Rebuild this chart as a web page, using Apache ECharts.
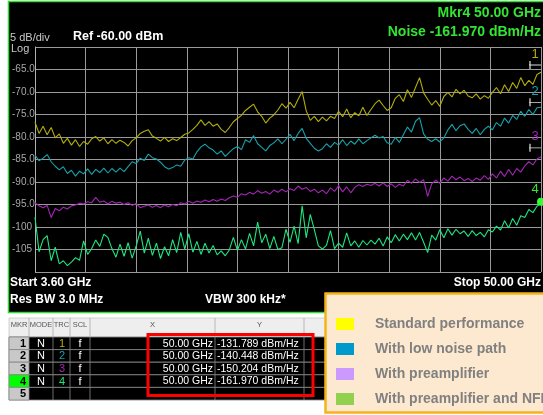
<!DOCTYPE html>
<html>
<head>
<meta charset="utf-8">
<script src="https://cdn.jsdelivr.net/npm/echarts@6/dist/echarts.min.js"></script>
<style>
html, body { margin: 0; padding: 0; background: #fff; }
#chart { width: 543px; height: 415px; }
</style>
</head>
<body>
<div id="chart"></div>
<script>
// sweep points 0..500 (3.60 GHz .. 50.00 GHz), one value every 4 points, dBm
const trace1 = [-76.7, -79.2, -77.6, -79.5, -77.9, -80.2, -79.3, -81.4, -80.3, -81.8, -80.6, -82.1, -81, -81.6, -80.4, -79.9, -80.9, -80.2, -81.5, -80.6, -81.4, -80.7, -81.2, -82, -80.8, -80.2, -79.2, -78.7, -78.4, -79.8, -80.3, -80.9, -80.1, -81, -80.4, -80.8, -80.1, -79.4, -79.1, -78.3, -77.4, -76.2, -77.4, -76.6, -77.6, -77.1, -78.3, -79, -77.9, -76.6, -75.9, -75.2, -74.1, -73.4, -72.7, -74.4, -75.4, -76.9, -75.8, -75.1, -74, -72.6, -73.6, -72.3, -73.5, -71.6, -69.9, -74.2, -76.3, -75.4, -76.6, -75.6, -76.4, -75.4, -75.9, -74.3, -75.5, -73.8, -75.7, -74.6, -75.3, -73.4, -75.2, -73.9, -72.6, -71.8, -73, -74.1, -73.5, -71.4, -70.6, -72.1, -69.5, -71.2, -69, -66.8, -70.2, -71.6, -72.9, -71.9, -73.2, -71, -70.1, -71.1, -69.4, -70.4, -69.6, -70.9, -71.3, -70.4, -71.6, -70.8, -71.4, -70.1, -69, -70.4, -68.4, -69.9, -67.9, -69.2, -66.8, -68.6, -67.4, -68.3, -66.1, -65.6]
const trace2 = [-84, -85.3, -84.7, -83.9, -85.5, -86.5, -87.3, -86.6, -88.1, -87.4, -88.7, -87.6, -88.2, -87.1, -88.3, -87.2, -87.9, -86.9, -88, -87, -87.8, -86.9, -87.7, -86.6, -85.5, -85.9, -84.7, -85.2, -83.8, -84.6, -84.9, -85.6, -86.6, -87.1, -86.8, -86.2, -86.5, -85.1, -84.6, -84.9, -83.3, -82.2, -81.6, -82.4, -82.9, -83.8, -83.1, -84.3, -83.4, -82.6, -82.1, -82.8, -80.6, -81.2, -79.7, -81.5, -82.3, -83.1, -81.9, -81.3, -80.4, -81.5, -80.5, -79.4, -80.8, -79.2, -78.1, -80.3, -81.4, -82.5, -83.1, -82.6, -81.5, -82.3, -81.2, -81.8, -80.6, -81.9, -80.9, -81.6, -80.4, -81.5, -80.8, -80.2, -79.6, -80.2, -79.9, -81.3, -81.6, -80.1, -81.2, -79.5, -77.8, -78.9, -76.5, -75.7, -79.3, -80.5, -81, -80.4, -81.1, -80.2, -78.4, -77.2, -78.6, -77.5, -77.1, -78.3, -79.2, -78.1, -79.5, -78.3, -77.6, -78.4, -76.8, -77.6, -75.8, -76.9, -75.2, -76.1, -74.3, -75.4, -73.9, -75, -73.5, -73.4]
const trace3 = [-94.6, -95.3, -95.7, -95.2, -97.9, -95.9, -96.4, -95.6, -96, -95.3, -95.1, -94.7, -94.9, -94.4, -94.6, -93.4, -94.5, -94.2, -94.9, -94.3, -94.7, -94.5, -95, -94.6, -95.2, -94.8, -95.7, -95.4, -95.1, -95.6, -95.2, -95.7, -95.1, -95.5, -95, -95.3, -94.6, -94.9, -94.3, -94.7, -94.2, -94.5, -94, -94.4, -93.9, -94.3, -93.8, -94.1, -93.5, -93.1, -93.4, -92.6, -92.9, -92.3, -92.7, -91.9, -92.5, -92.1, -92.7, -91.8, -92.3, -91.6, -92.2, -91.5, -91.9, -90.9, -91.6, -91.2, -92.1, -91.6, -92.4, -91.8, -92.6, -91.3, -92.1, -90.8, -92.2, -91.1, -92.4, -91.2, -90.6, -91, -90.5, -90.8, -90.3, -90.9, -90.2, -91, -90.4, -91.2, -90.5, -90.9, -89.6, -90.3, -89.3, -90.1, -89.5, -93.2, -90.4, -89.6, -90.3, -89.1, -89.8, -88.7, -89.5, -88.9, -89.7, -89.2, -89.9, -89.1, -89.6, -88.6, -89.4, -88.2, -89.1, -87.6, -88.8, -87.2, -88.5, -87, -87.8, -86.4, -85.5, -86.2, -84.9, -84.4]
const trace4 = [-97.8, -105.5, -102.8, -101.9, -107.5, -104.5, -108.2, -107.5, -108.6, -107.8, -106.8, -107.4, -103.1, -106.1, -104.8, -102.9, -104.3, -101.6, -102.3, -104.8, -106.7, -103.8, -106.5, -103.5, -106.9, -104.2, -100.9, -105.8, -102.5, -106.3, -103.6, -107, -104.4, -106.4, -102.8, -105.7, -101.2, -104.9, -101.5, -105.6, -103.2, -106.1, -103.6, -105.8, -104.1, -106.2, -105.3, -106.4, -105.1, -102.3, -105.2, -102.8, -104.9, -101.4, -104.2, -98.9, -103.5, -101.6, -104.8, -102.1, -105, -104.6, -100.5, -103.4, -99.8, -103.7, -95.3, -102.4, -97.2, -100.6, -104.2, -104.9, -104.1, -100.8, -104.8, -103.6, -104.5, -101.3, -104.2, -103.1, -104.5, -103, -104, -102.9, -103.8, -102.5, -104.2, -102.2, -103.5, -101.7, -103.1, -101.6, -102.8, -101.3, -102.9, -101.2, -103.4, -105.7, -101.8, -102.9, -100.6, -102.4, -100.4, -101.8, -100.5, -101.5, -100.9, -102.1, -100.8, -101.9, -101.2, -102.2, -100.6, -101.1, -99.8, -100.7, -98.6, -100.2, -98.1, -99.6, -97.5, -97.9, -96.1, -96.8, -95.4, -94.8]

const traceNames = ['Standard performance', 'With low noise path', 'With preamplifier', 'With preamplifier and NFE']
const traceColors = ['#b3ad0c', '#17a2ad', '#a326b5', '#1ee67e']
const legendColors = ['#ffff00', '#0099cc', '#cc99ff', '#92d050']
const markerLevels = [-64, -72.3, -82.4, -94.4]

// marker table
const mkrCol = ['1', '2', '3', '4', '5']
const modeCol = ['N', 'N', 'N', 'N', '']
const trcCol = ['1', '2', '3', '4', '']
const sclCol = ['f', 'f', 'f', 'f', '']
const xCol = ['50.00 GHz', '50.00 GHz', '50.00 GHz', '50.00 GHz', '']
const yCol = ['-131.789 dBm/Hz', '-140.448 dBm/Hz', '-150.204 dBm/Hz', '-161.970 dBm/Hz', '']

const FONT = 'Arial, "Liberation Sans", sans-serif'

function buildGraphic() {
  const g = []
  // analyzer screen
  g.push({ type: 'rect', z: -10, shape: { x: 8.5, y: 1.5, width: 540, height: 311 },
    style: { fill: '#000', stroke: '#2fe02f', lineWidth: 1.5 } })
  const txt = (text, x, y, o) => Object.assign({
    type: 'text', z: 50, x, y,
    style: Object.assign({ text, fill: '#fff', font: '13px ' + FONT, textVerticalAlign: 'middle' }, o || {})
  })
  g.push(txt('5 dB/div', 10, 38, { fill: '#c8c8c8', font: '11px ' + FONT }))
  g.push(txt('Log', 11, 49, { fill: '#c8c8c8', font: '11px ' + FONT }))
  g.push(txt('Ref -60.00 dBm', 73, 37, { font: 'bold 12.5px ' + FONT }))
  g.push(txt('Mkr4 50.00 GHz', 541, 13, { fill: '#33e533', font: 'bold 14px ' + FONT, textAlign: 'right' }))
  g.push(txt('Noise -161.970 dBm/Hz', 541, 32, { fill: '#33e533', font: 'bold 14px ' + FONT, textAlign: 'right' }))
  g.push(txt('Start 3.60 GHz', 10, 283, { font: 'bold 12px ' + FONT }))
  g.push(txt('Res BW 3.0 MHz', 10, 300, { font: 'bold 12px ' + FONT }))
  g.push(txt('VBW 300 kHz*', 205, 300, { font: 'bold 12px ' + FONT }))
  g.push(txt('Stop 50.00 GHz', 541, 283, { font: 'bold 12px ' + FONT, textAlign: 'right' }))

  // marker table
  const cols = [9, 29, 53, 70, 90, 215, 304, 543]
  const headTop = 318, rowTop = 337, rowH = 12.6
  g.push({ type: 'rect', z: 20, shape: { x: 9, y: headTop, width: 534, height: rowTop - headTop },
    style: { fill: '#eeeeee', stroke: '#aaa', lineWidth: 0.5 } })
  const heads = ['MKR', 'MODE', 'TRC', 'SCL', 'X', 'Y', 'F']
  heads.forEach((h, c) => {
    if (c > 0) g.push({ type: 'line', z: 21, shape: { x1: cols[c], y1: headTop, x2: cols[c], y2: rowTop },
      style: { stroke: '#aaa', lineWidth: 0.8 } })
    g.push(txt(h, (cols[c] + cols[c + 1]) / 2, headTop + 7, { fill: '#555', font: '7.5px ' + FONT, textAlign: 'center' }))
  })
  mkrCol.forEach((m, r) => {
    const y = rowTop + r * rowH
    g.push({ type: 'rect', z: 20, shape: { x: 9, y, width: 534, height: rowH },
      style: { fill: '#000', stroke: '#888', lineWidth: 0.8 } })
    g.push({ type: 'rect', z: 21, shape: { x: 9, y, width: cols[1] - 9, height: rowH },
      style: { fill: r === 3 ? '#00ff00' : '#c8c8c8', stroke: '#888', lineWidth: 0.8 } })
    for (let c = 2; c < cols.length - 1; c++) {
      g.push({ type: 'line', z: 21, shape: { x1: cols[c], y1: y, x2: cols[c], y2: y + rowH },
        style: { stroke: '#888', lineWidth: 0.8 } })
    }
    const cy = y + rowH / 2 + 0.5
    g.push(txt(m, 26, cy, { fill: '#000', font: 'bold 11px ' + FONT, textAlign: 'right' }))
    g.push(txt(modeCol[r], 41, cy, { font: '11px ' + FONT, textAlign: 'center' }))
    g.push(txt(trcCol[r], 62, cy, { fill: traceColors[r] || '#fff', font: '11px ' + FONT, textAlign: 'center' }))
    g.push(txt(sclCol[r], 80, cy, { font: '11px ' + FONT, textAlign: 'center' }))
    g.push(txt(xCol[r], 213, cy, { font: '10.5px ' + FONT, textAlign: 'right' }))
    g.push(txt(yCol[r], 217, cy, { font: '10.5px ' + FONT }))
  })
  // highlight box
  g.push({ type: 'rect', z: 60, shape: { x: 148, y: 334.5, width: 165, height: 61 },
    style: { fill: 'none', stroke: '#ff0000', lineWidth: 3 } })
  // legend panel
  g.push({ type: 'rect', z: 100, shape: { x: 325.5, y: 293.5, width: 230, height: 119 },
    style: { fill: '#fde9d0', stroke: '#f5b21a', lineWidth: 2.5 } })
  return g
}

function seriesData(vals) {
  return vals.map((v, i) => [i * 4, v])
}

const traces = [trace1, trace2, trace3, trace4]
const chart = echarts.init(document.getElementById('chart'))
chart.setOption({
  animation: false,
  backgroundColor: '#fff',
  grid: { left: 35, top: 47, width: 506, height: 225, show: false },
  xAxis: {
    type: 'value', min: 0, max: 500, interval: 50,
    axisLine: { show: false }, axisTick: { show: false }, axisLabel: { show: false },
    splitLine: { lineStyle: { color: '#999999', width: 1 } }
  },
  yAxis: {
    type: 'value', min: -110, max: -60, interval: 5,
    axisLine: { show: true, lineStyle: { color: '#b0b0b0' } },
    axisTick: { show: false },
    axisLabel: {
      showMinLabel: false, showMaxLabel: false, align: 'left', margin: 23,
      color: '#a8a8a8', fontSize: 10, fontFamily: FONT,
      formatter: v => (v > -100 ? v.toFixed(1) : String(v))
    },
    splitLine: { lineStyle: { color: '#999999', width: 1 } }
  },
  legend: {
    z: 200, orient: 'vertical', left: 336, top: 317, padding: 0,
    itemWidth: 18, itemHeight: 12, itemGap: 11, icon: 'rect',
    selectedMode: false,
    textStyle: { color: '#808080', fontSize: 14, fontWeight: 'bold', fontFamily: FONT, lineHeight: 12, padding: [0, 0, 0, 16] },
    data: traceNames.map((n, i) => ({ name: n, itemStyle: { color: legendColors[i] }, lineStyle: { opacity: 0 } }))
  },
  series: traces.map((t, i) => ({
    name: traceNames[i],
    type: 'line',
    data: seriesData(t),
    showSymbol: false,
    color: traceColors[i],
    lineStyle: { width: 1.1, color: traceColors[i] },
    markPoint: {
      symbol: i === 3 ? 'circle' : 'path://M0,4 L12,4 M1,0 L1,8',
      symbolSize: i === 3 ? 8 : [12, 8],
      symbolOffset: i === 3 ? [0, 0] : [-6, 0],
      itemStyle: i === 3 ? { color: '#33ff33' } : { color: 'none', borderColor: '#dddddd', borderWidth: 1 },
      label: {
        show: true, formatter: String(i + 1), position: 'inside', offset: i === 3 ? [-6, -12] : [0, -11],
        color: i === 3 ? '#33e533' : traceColors[i], fontSize: 13, fontFamily: FONT
      },
      data: [{ coord: [500, markerLevels[i]] }]
    }
  })),
  graphic: buildGraphic()
})
</script>
</body>
</html>
